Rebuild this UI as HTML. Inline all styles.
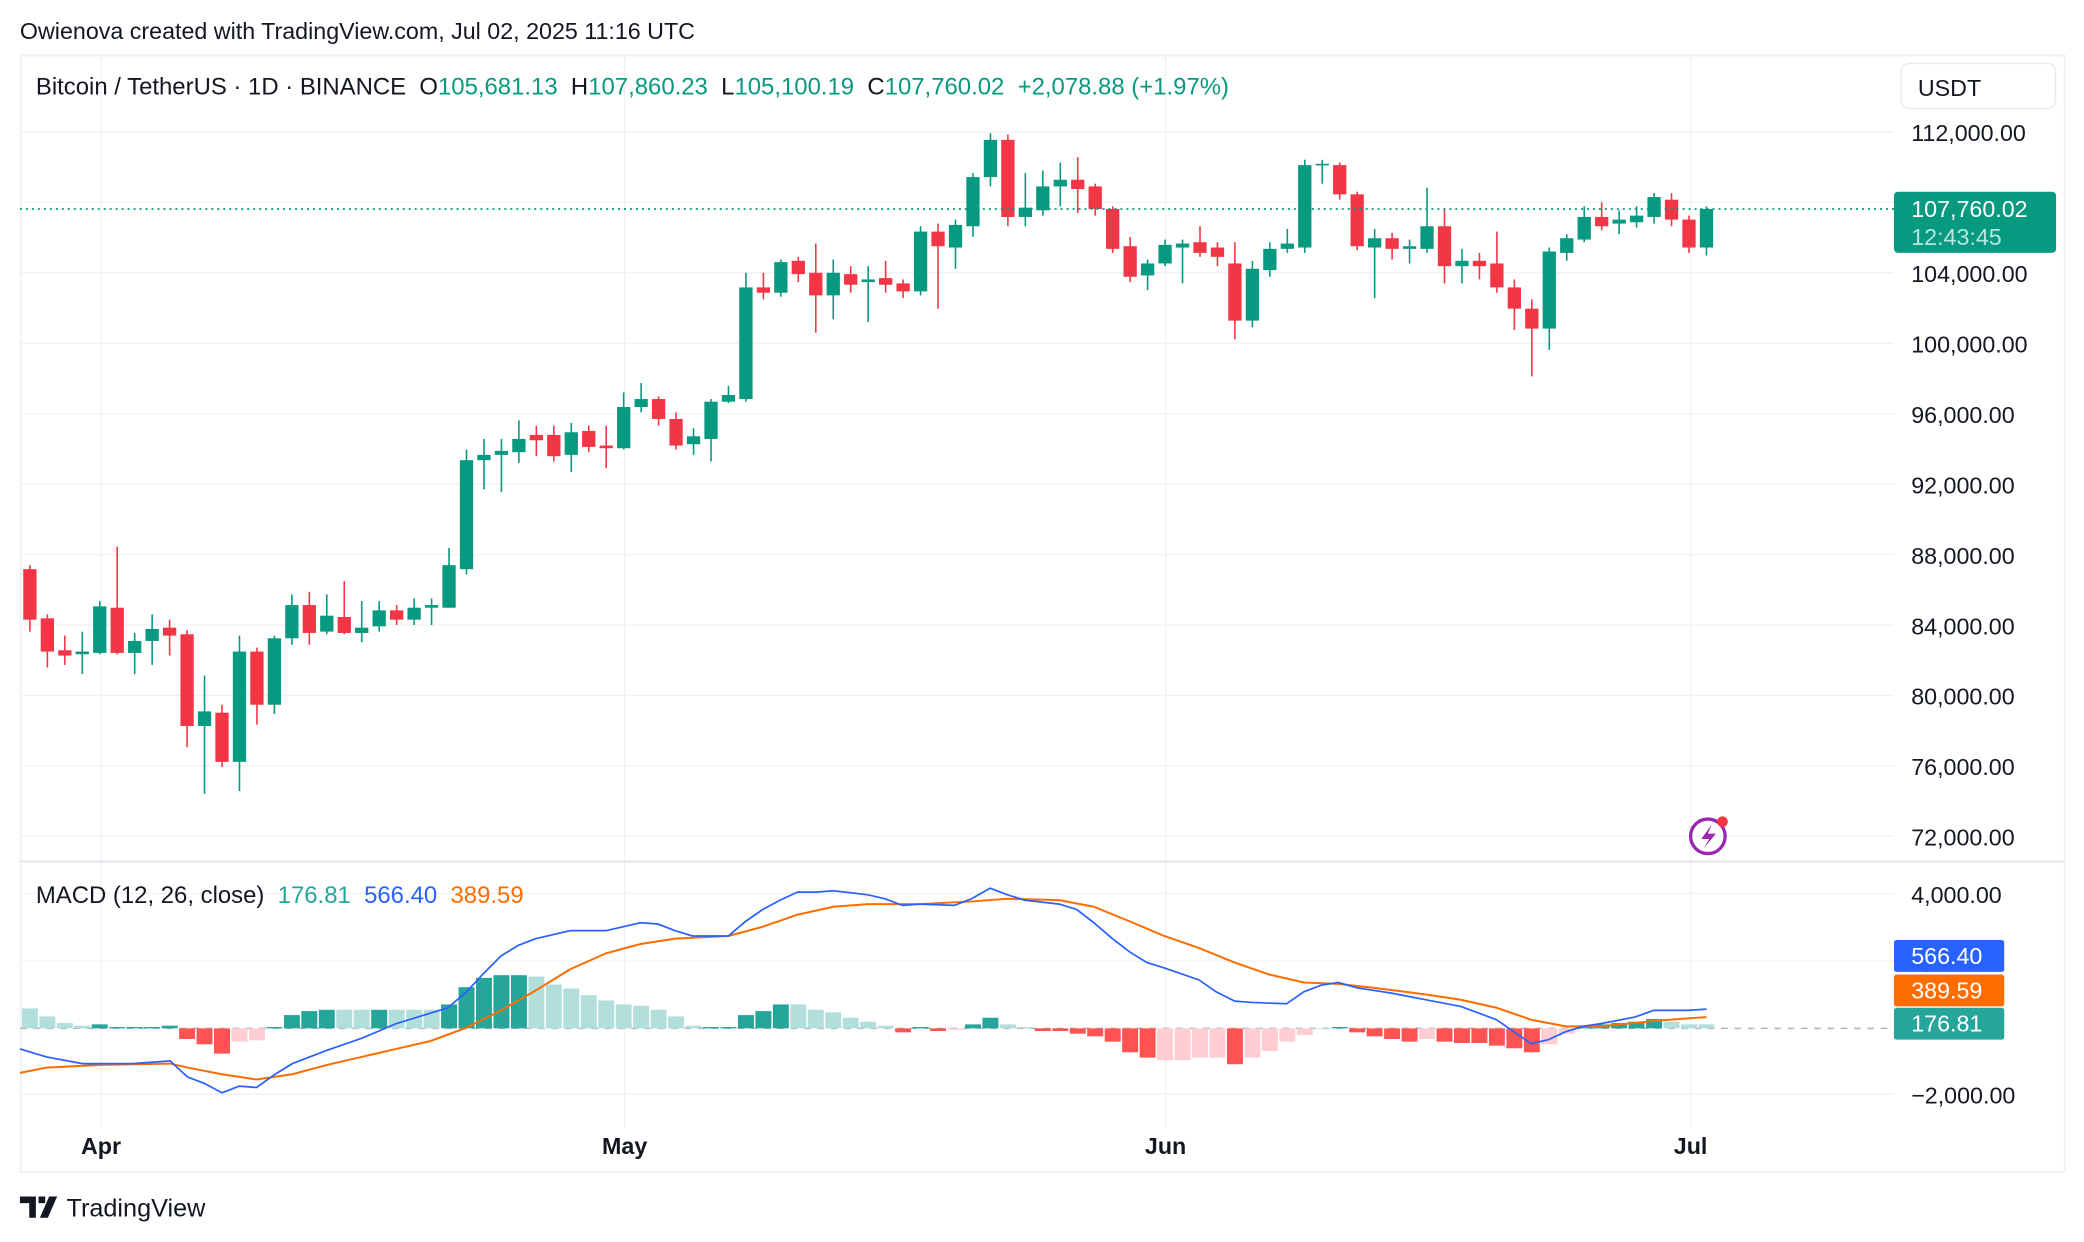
<!DOCTYPE html>
<html><head><meta charset="utf-8"><style>
html,body{margin:0;padding:0;background:#fff;}
svg{display:block;}
text{font-family:"Liberation Sans",sans-serif;white-space:pre;}
</style></head><body>
<svg id="s" width="2084" height="1242" viewBox="0 0 1568 934" xmlns="http://www.w3.org/2000/svg" xml:space="preserve">
<rect width="1568" height="934" fill="#fff"/>
<text x="15" y="29" font-size="17.5" fill="#131722">Owienova created with TradingView.com, Jul 02, 2025 11:16 UTC</text>
<rect x="15.5" y="41.5" width="1538" height="840" fill="none" stroke="#f0f1f3" stroke-width="1.5"/>
<g id="grid" stroke="#f0f1f3" stroke-width="1"></g>
<line x1="15" y1="648" x2="1553" y2="648" stroke="#e0e3eb" stroke-width="1.5"/>
<line x1="15" y1="773.5" x2="1425" y2="773.5" stroke="#b2b5be" stroke-width="1.2" stroke-dasharray="5,5"/>
<g id="hist"></g>
<g id="cand"></g>
<line x1="15" y1="157" x2="1425" y2="157" stroke="#089981" stroke-width="1.3" stroke-dasharray="1.5,3"/>
<polyline id="sig" fill="none" stroke="#ff6d00" stroke-width="1.5"/>
<polyline id="mac" fill="none" stroke="#2962ff" stroke-width="1.3"/>
<text x="27" y="71" font-size="18" fill="#131722">Bitcoin / TetherUS · 1D · BINANCE  O<tspan fill="#089981">105,681.13</tspan>  H<tspan fill="#089981">107,860.23</tspan>  L<tspan fill="#089981">105,100.19</tspan>  C<tspan fill="#089981">107,760.02</tspan>  <tspan fill="#089981">+2,078.88 (+1.97%)</tspan></text>
<text x="27" y="679" font-size="18" fill="#131722">MACD (12, 26, close)  <tspan fill="#26a69a">176.81</tspan>  <tspan fill="#2962ff">566.40</tspan>  <tspan fill="#ff6d00">389.59</tspan></text>
<rect x="1430.5" y="47.5" width="116" height="34" rx="6" fill="#fff" stroke="#e8eaee"/>
<text x="1443" y="72" font-size="17.5" fill="#131722">USDT</text>
<g font-size="17.5" fill="#131722">
<text x="1438" y="106">112,000.00</text>
<text x="1438" y="212">104,000.00</text>
<text x="1438" y="265">100,000.00</text>
<text x="1438" y="318">96,000.00</text>
<text x="1438" y="371">92,000.00</text>
<text x="1438" y="424">88,000.00</text>
<text x="1438" y="477">84,000.00</text>
<text x="1438" y="530">80,000.00</text>
<text x="1438" y="583">76,000.00</text>
<text x="1438" y="636">72,000.00</text>
<text x="1438" y="679">4,000.00</text>
<text x="1438" y="729">2,000.00</text>
<text x="1438" y="830">−2,000.00</text>
</g>
<rect x="1425" y="144" width="122" height="46" rx="3" fill="#089981"/>
<text x="1438" y="163" font-size="17.5" fill="#fff">107,760.02</text>
<text x="1438" y="184" font-size="17.5" fill="#b8e5dc">12:43:45</text>
<rect x="1425" y="707" width="83" height="24" rx="2" fill="#2962ff"/>
<text x="1438" y="725" font-size="17.5" fill="#fff">566.40</text>
<rect x="1425" y="733" width="83" height="24" rx="2" fill="#ff6d00"/>
<text x="1438" y="751" font-size="17.5" fill="#fff">389.59</text>
<rect x="1425" y="758" width="83" height="24" rx="2" fill="#26a69a"/>
<text x="1438" y="776" font-size="17.5" fill="#fff">176.81</text>
<g font-size="17.5" font-weight="bold" fill="#131722" text-anchor="middle">
<text x="76" y="868">Apr</text><text x="470" y="868">May</text><text x="877" y="868">Jun</text><text x="1272" y="868">Jul</text>
</g>
<circle cx="1285" cy="629" r="13" fill="none" stroke="#9c27b0" stroke-width="2.5"/>
<path d="M1288 620 L1280 631 L1286 631 L1282 638 L1291 627 L1285 627 Z" fill="#9c27b0"/>
<circle cx="1296" cy="618" r="4" fill="#f23645"/>
<path d="M15 900 h12 v16 h-5 v-11 h-7z M29 900 h5 v5 h-5z M37 900 h6 l-7 16 h-6z" fill="#131722"/>
<text x="50" y="915" font-size="19" fill="#131722">TradingView</text>
</svg>
<script>
const NS="http://www.w3.org/2000/svg";
function el(p,t,a){const e=document.createElementNS(NS,t);for(const k in a)e.setAttribute(k,a[k]);document.getElementById(p).appendChild(e);}
[99,152,205,258,311,364,417,470,523,576,629,672,723,823].forEach(y=>el('grid','line',{x1:15,x2:1425,y1:y,y2:y}));
[76,470,877,1272].forEach(x=>el('grid','line',{x1:x,x2:x,y1:42,y2:848}));
const C=[["r",428,466,425,475],["r",465,490,462,502],["r",489,493,478,500],["g",490,492,475,507],["g",456,491,452,492],["r",457,491,411,492],["g",482,491,476,507],["g",473,482,462,500],["r",472,478,466,493],["r",477,546,474,562],["g",535,546,508,597],["r",536,573,530,577],["g",490,573,478,595],["r",490,530,487,545],["g",480,530,478,537],["g",455,480,447,485],["r",455,476,445,485],["g",463,475,447,477],["r",464,476,437,477],["g",472,476,452,483],["g",459,471,452,475],["r",459,466,455,470],["g",457,466,450,470],["g",455,457,450,470],["g",425,457,412,457],["g",346,428,338,432],["g",342,346,330,368],["g",339,342,330,370],["g",330,340,316,348],["r",327,331,320,343],["r",327,343,320,347],["g",325,342,318,355],["r",324,336,320,340],["r",335,337,320,352],["g",306,337,295,338],["g",300,306,288,310],["r",300,315,298,320],["r",315,335,310,338],["g",328,334,322,342],["g",302,330,300,347],["g",297,302,290,303],["g",216,300,205,302],["r",216,220,205,225],["g",197,220,195,223],["r",196,206,193,212],["r",205,222,183,250],["g",205,222,195,240],["r",206,214,200,220],["g",210,212,200,242],["r",209,214,196,220],["r",213,219,210,224],["g",174,219,170,222],["r",174,185,168,232],["g",169,186,165,202],["g",133,170,130,178],["g",105,133,100,140],["r",105,163,101,170],["g",156,163,130,170],["g",140,158,128,162],["g",135,140,122,155],["r",135,142,118,160],["r",140,157,138,162],["r",157,187,155,190],["r",185,208,178,212],["g",198,207,195,218],["g",184,198,180,200],["g",183,186,180,213],["r",182,190,170,193],["r",186,193,182,200],["r",198,241,182,255],["g",202,241,196,246],["g",187,203,182,208],["g",183,187,172,190],["g",124,186,120,190],["g",123,124,120,138],["r",124,146,122,150],["r",146,185,144,188],["g",179,186,172,224],["r",179,187,175,195],["g",185,187,180,198],["g",170,187,141,190],["r",170,200,157,213],["g",196,200,187,213],["r",196,200,190,210],["r",198,216,174,220],["r",216,232,210,248],["r",232,247,225,283],["g",189,247,186,263],["g",179,190,176,196],["g",163,180,155,182],["r",163,170,152,173],["g",165,168,158,176],["g",162,167,155,171],["g",148,163,145,168],["r",150,165,145,170],["r",165,186,162,190],["g",157,186,155,192]];
const X=i=>22.5+i*13.14;
C.forEach((c,i)=>{const col=c[0]=="g"?"#089981":"#f23645";const x=X(i);
el('cand','line',{x1:x,x2:x,y1:c[3],y2:c[4],stroke:col,"stroke-width":1.2});
el('cand','rect',{x:x-5,y:c[1],width:10,height:Math.max(1.2,c[2]-c[1]),fill:col});});
const H="15L,9L,4L,2L,3T,1T,1T,1T,2T,-8R,-12R,-19R,-10P,-9P,1T,10T,13T,14T,14L,14L,14T,14L,14L,14L,18T,31T,38T,40T,40T,39L,33L,30L,25L,21L,18L,17L,14L,9L,2L,1T,1T,10T,13T,18T,18L,14L,12L,8L,5L,2L,-3R,1T,-2R,-1P,3T,8T,3L,1L,-2R,-2R,-4R,-6R,-10R,-18R,-22R,-24P,-24P,-22P,-22P,-27R,-22P,-17P,-10P,-5P,0L,1T,-3R,-6R,-8R,-10R,-8P,-10R,-11R,-11R,-13R,-15R,-18R,-12P,-4P,2T,3T,4T,5T,7T,5L,3L,3L".split(",");
const HC={T:"#26a69a",L:"#b2dfdb",R:"#ff5252",P:"#ffcdd2"};
H.forEach((h,i)=>{const v=parseFloat(h),c=h.slice(-1);const x=X(i);const y=v>=0?773.5-v:773.5;
el('hist','rect',{x:Math.max(15,x-6),y:y,width:x-6<15?x+6-15:12,height:Math.max(0.5,Math.abs(v)),fill:HC[c]});});
document.getElementById('mac').setAttribute('points',"15,789 35,795 62,800 76,800 100,800 128,798 141,810 154,815 167,822 180,817 193,818 207,808 220,800 246,790 272,781 298,770 324,762 337,758 351,746 364,732 377,719 390,711 403,706 416,703 429,700 442,700 456,700 469,697 482,694 495,695 508,700 521,704 548,704 561,693 574,684 587,677 600,671 614,671 627,670 653,673 666,676 679,681 692,680 718,681 731,676 745,668 758,673 771,677 797,680 810,684 823,694 837,706 850,716 863,724 876,728 902,737 915,746 929,753 942,754 968,755 981,746 994,741 1007,739 1021,743 1047,747 1073,752 1099,757 1126,767 1139,776 1152,785 1165,782 1178,776 1191,772 1204,770 1230,765 1244,760 1270,760 1284,759");
document.getElementById('sig').setAttribute('points',"15,807 35,803 76,801 128,800 141,803 167,808 193,812 220,808 246,801 272,795 298,789 324,783 351,773 377,760 403,745 429,729 456,717 482,710 508,706 548,704 574,697 600,688 627,682 653,680 692,680 731,678 758,676 797,677 823,682 850,693 876,704 902,713 929,724 955,733 981,739 1007,740 1034,743 1073,748 1099,752 1126,758 1152,767 1178,772 1204,772 1244,768 1270,766 1284,765");
</script>
</body></html>
